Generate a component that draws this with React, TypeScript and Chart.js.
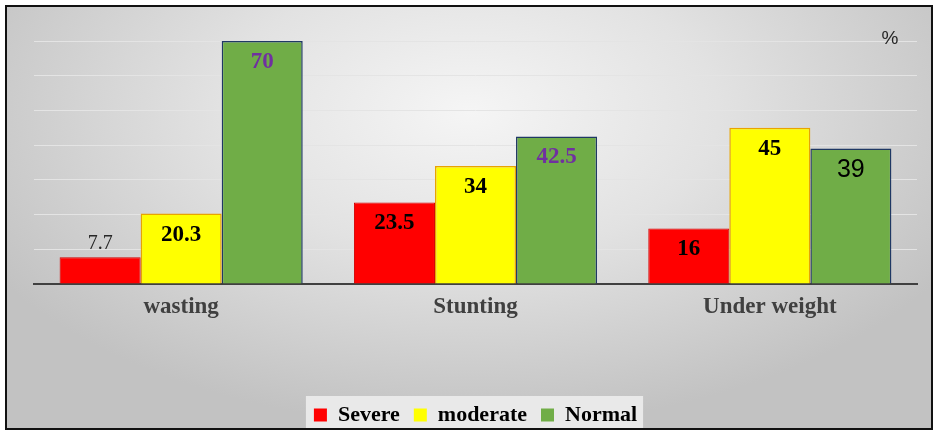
import { useEffect, useRef } from 'react';
import { Chart, registerables } from 'chart.js';

Chart.register(...registerables);

const CATEGORIES = ['wasting', 'Stunting', 'Under weight'];
const SEVERE = [7.7, 23.5, 16];
const MODERATE = [20.3, 34, 45];
const NORMAL = [70, 42.5, 39];
const Y_MAX = 70;
const Y_STEP = 10;

const SERIF = '"Liberation Serif", "Times New Roman", serif';
const SANS = '"Liberation Sans", Arial, sans-serif';

type LabelStyle = { font: string; color: string; dy: number };
const boldLabel = (color: string): LabelStyle => ({ font: `bold 23px ${SERIF}`, color, dy: 27 });

// per dataset, per category: how the value label is drawn
const LABEL_STYLES: LabelStyle[][] = [
  [{ font: `20px ${SERIF}`, color: '#262626', dy: -8 }, boldLabel('#000'), boldLabel('#000')],
  [boldLabel('#000'), boldLabel('#000'), boldLabel('#000')],
  [boldLabel('#7030a0'), boldLabel('#7030a0'), { font: `25px ${SANS}`, color: '#000', dy: 28 }],
];

const barLabels = {
  id: 'barLabels',
  afterDatasetsDraw(chart: Chart) {
    const { ctx, chartArea } = chart;
    chart.data.datasets.forEach((ds, di) => {
      chart.getDatasetMeta(di).data.forEach((bar, i) => {
        const st = LABEL_STYLES[di][i];
        const { x, y } = bar.getProps(['x', 'y'], true) as { x: number; y: number };
        ctx.save();
        ctx.font = st.font;
        ctx.fillStyle = st.color;
        ctx.textAlign = 'center';
        ctx.textBaseline = 'alphabetic';
        ctx.fillText(String(ds.data[i]), x, y + st.dy);
        ctx.restore();
      });
    });
    // unit sign in the top right corner
    ctx.save();
    ctx.font = `19px ${SANS}`;
    ctx.fillStyle = '#262626';
    ctx.textAlign = 'center';
    ctx.fillText('%', chartArea.right - 27, chartArea.top - 2);
    ctx.restore();
  },
};

const legendBg = {
  id: 'legendBg',
  beforeDraw(chart: Chart) {
    const lg: any = chart.legend;
    const boxes = lg?.legendHitBoxes;
    if (!boxes || !boxes.length) return;
    const last = boxes[boxes.length - 1];
    const l = boxes[0].left - 8;
    const r = last.left + last.width + 6;
    const t = boxes[0].top - 8;
    const b = Math.min(boxes[0].top + boxes[0].height + 8, 428);
    const { ctx } = chart;
    ctx.save();
    ctx.fillStyle = '#e9e9e9';
    ctx.fillRect(l, t, r - l, b - t);
    ctx.restore();
  },
};

export default function App() {
  const canvasRef = useRef<HTMLCanvasElement>(null);

  useEffect(() => {
    if (!canvasRef.current) return;
    const chart = new Chart(canvasRef.current, {
      type: 'bar',
      data: {
        labels: CATEGORIES,
        datasets: [
          {
            label: 'Severe',
            data: SEVERE,
            backgroundColor: '#ff0000',
            borderColor: '#d40000',
            borderWidth: 1,
          },
          {
            label: 'moderate',
            data: MODERATE,
            backgroundColor: '#ffff00',
            borderColor: '#e8a400',
            borderWidth: 1.5,
          },
          {
            label: 'Normal',
            data: NORMAL,
            backgroundColor: '#70ad47',
            borderColor: '#1f3864',
            borderWidth: 1.5,
          },
        ],
      },
      options: {
        responsive: true,
        maintainAspectRatio: false,
        animation: false,
        datasets: { bar: { categoryPercentage: 0.826, barPercentage: 1 } },
        layout: { padding: { left: 34, right: 26, top: 41, bottom: 2 } },
        plugins: {
          tooltip: { enabled: false },
          legend: {
            position: 'bottom',
            labels: {
              boxWidth: 13,
              boxHeight: 13,
              padding: 14,
              color: '#000',
              font: { family: SERIF, size: 22, weight: 'bold' },
              generateLabels: (c) =>
                Chart.defaults.plugins.legend.labels
                  .generateLabels(c)
                  .map((item) => ({ ...item, lineWidth: 0, strokeStyle: item.fillStyle })),
            },
          },
        },
        scales: {
          x: {
            grid: { display: false, drawTicks: false },
            border: { display: true, color: '#404040', width: 2 },
            ticks: {
              padding: 9,
              color: '#404040',
              font: { family: SERIF, size: 23, weight: 'bold' },
            },
            afterFit: (scale) => {
              scale.height = 106;
            },
          },
          y: {
            min: 0,
            max: Y_MAX,
            ticks: { display: false, stepSize: Y_STEP },
            border: { display: false },
            grid: { color: '#e4e4e4', lineWidth: 1, drawTicks: false },
          },
        },
      },
      plugins: [legendBg, barLabels],
    });
    return () => chart.destroy();
  }, []);

  return (
    <div style={{ position: 'fixed', left: 0, top: 0, width: 943, height: 438, background: '#fff' }}>
      <div
        style={{
          position: 'absolute',
          left: 5,
          top: 5,
          width: 928,
          height: 425,
          boxSizing: 'border-box',
          border: '2px solid #111',
          background:
            'radial-gradient(ellipse 60% 75% at 50% 25%, #f5f5f5 0%, #e2e2e2 45%, #c2c2c2 100%)',
        }}
      />
      <div style={{ position: 'absolute', left: 0, top: 0, width: 943, height: 438 }}>
        <canvas ref={canvasRef} />
      </div>
    </div>
  );
}
